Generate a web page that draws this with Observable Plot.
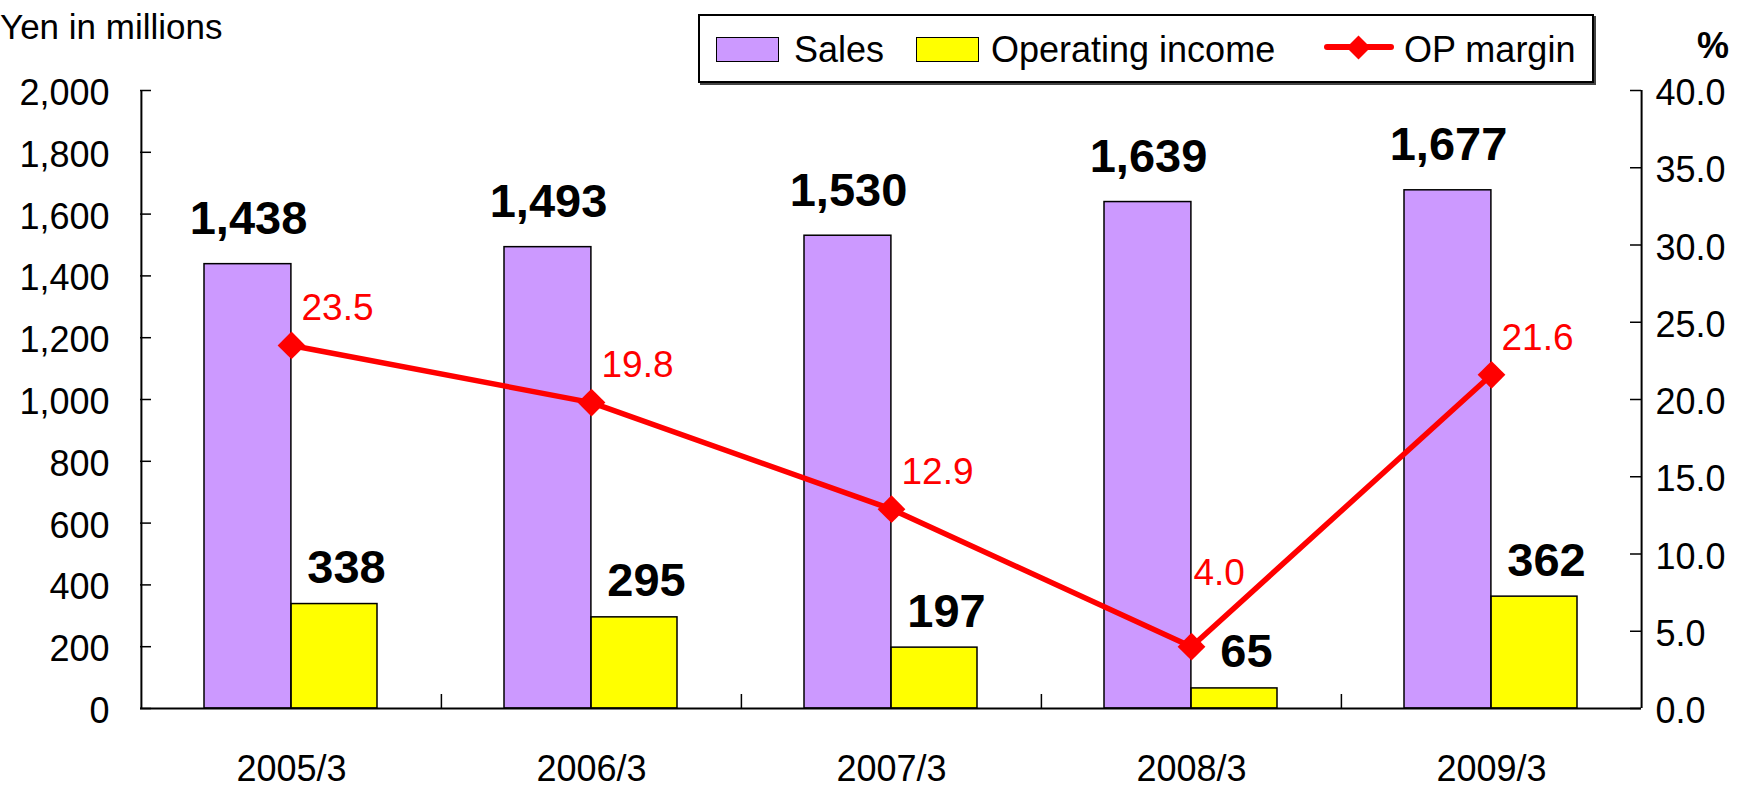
<!DOCTYPE html>
<html>
<head>
<meta charset="utf-8">
<script src="https://cdn.jsdelivr.net/npm/d3@7"></script>
<script src="https://cdn.jsdelivr.net/npm/@observablehq/plot@0.6"></script>
<style>
  html, body { margin: 0; padding: 0; background: #fff; }
  #wrap { position: relative; width: 1749px; height: 790px; font-family: "Liberation Sans", Arial, sans-serif; color: #000; }
  #wrap svg { position: absolute; left: 0; top: 0; }
  .abs { position: absolute; white-space: nowrap; line-height: 1; }
  #legend { position: absolute; left: 698px; top: 14px; width: 892px; height: 65px; border: 2px solid #000; box-shadow: 2px 2px 0 #444; background: #fff; }
  .sw { position: absolute; box-sizing: border-box; border: 1.5px solid #000; }
</style>
</head>
<body>
<div id="wrap">
  <div class="abs" style="left:0px; top:9px; font-size:35px;">Yen in millions</div>
  <div class="abs" style="left:1697px; top:28px; font-size:36px; font-weight:bold;">%</div>
  <div id="legend"></div>
</div>
<script>
const years = ["2005/3", "2006/3", "2007/3", "2008/3", "2009/3"];
const sales = [1438, 1493, 1530, 1639, 1677];
const opIncome = [338, 295, 197, 65, 362];
const opMargin = [23.5, 19.8, 12.9, 4.0, 21.6];
const leftTicks = [0, 200, 400, 600, 800, 1000, 1200, 1400, 1600, 1800, 2000];
const rightTicks = [0, 5, 10, 15, 20, 25, 30, 35, 40];
const seriesNames = ["Sales", "Operating income", "OP margin"];
const colors = ["#CC99FF", "#FFFF00", "#FF0000"];

const leftMax = 2000, rightMax = 40;
const ratio = leftMax / rightMax;

const W = 1749, H = 790;
const mL = 140, mR = 108, mT = 90, mB = 82;
const frameW = W - mL - mR, frameH = H - mT - mB;
const bw = frameW / years.length;

const rows = years.map((y, i) => ({year: y, sales: sales[i], op: opIncome[i], margin: opMargin[i]}));
// a local minimum of the margin line gets its label lifted higher, clear of the rising line
const isDip = (d, i) => i > 0 && i < rows.length - 1 && d.margin < rows[i - 1].margin && d.margin < rows[i + 1].margin;

const chart = Plot.plot({
  width: W, height: H,
  marginLeft: mL, marginRight: mR, marginTop: mT, marginBottom: mB,
  style: {fontFamily: '"Liberation Sans", Arial, sans-serif', fontSize: "36px", color: "#000", background: "transparent"},
  x: {type: "band", domain: years, padding: 0},
  y: {domain: [0, leftMax]},
  marks: [
    Plot.barY(rows, {x: "year", y: "sales", fill: colors[0], stroke: "#000", strokeWidth: 1.5, insetLeft: 63, insetRight: bw / 2}),
    Plot.barY(rows, {x: "year", y: "op", fill: colors[1], stroke: "#000", strokeWidth: 1.5, insetLeft: bw / 2, insetRight: 64}),
    Plot.ruleY([0], {stroke: "#000", strokeWidth: 2}),
    Plot.ruleX([years[0]], {x: d => d, dx: -bw / 2, stroke: "#000", strokeWidth: 2}),
    Plot.ruleX([years[years.length - 1]], {x: d => d, dx: bw / 2, stroke: "#000", strokeWidth: 2}),
    Plot.tickX(years.slice(1), {x: d => d, dx: -bw / 2, insetTop: frameH - 14, stroke: "#000", strokeWidth: 1.5}),
    Plot.tickY(leftTicks, {y: d => d, insetRight: frameW - 11, stroke: "#000", strokeWidth: 1.5}),
    Plot.tickY(rightTicks, {y: d => d * ratio, insetLeft: frameW - 11, stroke: "#000", strokeWidth: 1.5}),
    Plot.axisY(leftTicks, {anchor: "left", tickSize: 0, tickPadding: 31, dy: 3, fontSize: 36, tickFormat: d3.format(","), label: null}),
    Plot.axisY(rightTicks.map(v => v * ratio), {anchor: "right", tickSize: 0, tickPadding: 14, dy: 3, fontSize: 36, tickFormat: v => (v / ratio).toFixed(1), label: null}),
    Plot.axisX({tickSize: 0, tickPadding: 47, fontSize: 36, label: null}),
    Plot.line(rows, {x: "year", y: d => d.margin * ratio, stroke: colors[2], strokeWidth: 5.5}),
    Plot.dot(rows, {x: "year", y: d => d.margin * ratio, symbol: "diamond2", r: 12.5, fill: colors[2], stroke: "none"}),
    Plot.text(rows.filter((d, i) => !isDip(d, i)), {x: "year", y: d => d.margin * ratio, text: d => d.margin.toFixed(1), fill: colors[2], fontSize: 37, textAnchor: "start", lineAnchor: "middle", dx: 10, dy: -37}),
    Plot.text(rows.filter((d, i) => isDip(d, i)), {x: "year", y: d => d.margin * ratio, text: d => d.margin.toFixed(1), fill: colors[2], fontSize: 37, textAnchor: "start", lineAnchor: "middle", dx: 2, dy: -74}),
    Plot.text(rows, {x: "year", y: "sales", text: d => d3.format(",")(d.sales), fill: "#000", fontSize: 47, fontWeight: "bold", lineAnchor: "bottom", dx: -43, dy: -30}),
    Plot.text(rows, {x: "year", y: "op", text: d => d3.format(",")(d.op), fill: "#000", fontSize: 47, fontWeight: "bold", lineAnchor: "bottom", dx: 55, dy: -21})
  ]
});
document.getElementById("wrap").prepend(chart);

// Legend
const lg = document.getElementById("legend");
const ox = 700, oy = 16; // inner origin of legend box (after border)
function add(html) { lg.insertAdjacentHTML("beforeend", html); }
add(`<div class="sw" style="left:${716-ox}px; top:${37-oy}px; width:63px; height:25px; background:${colors[0]};"></div>`);
add(`<div class="abs" style="left:${794-ox}px; top:${32-oy}px; font-size:36px;">${seriesNames[0]}</div>`);
add(`<div class="sw" style="left:${916-ox}px; top:${37-oy}px; width:63px; height:25px; background:${colors[1]};"></div>`);
add(`<div class="abs" style="left:${991-ox}px; top:${32-oy}px; font-size:36px;">${seriesNames[1]}</div>`);
add(`<div style="position:absolute; left:${1324-ox}px; top:${47-oy-2.75}px; width:70px; height:5.5px; background:${colors[2]}; border-radius:3px;"></div>`);
add(`<div style="position:absolute; left:${1358-ox-8.5}px; top:${47-oy-8.5}px; width:17px; height:17px; background:${colors[2]}; transform:rotate(45deg);"></div>`);
add(`<div class="abs" style="left:${1404-ox}px; top:${32-oy}px; font-size:36px;">${seriesNames[2]}</div>`);
</script>
</body>
</html>
